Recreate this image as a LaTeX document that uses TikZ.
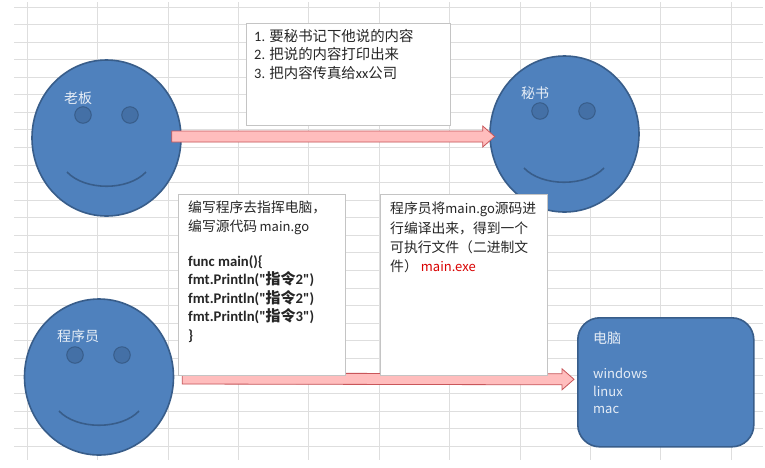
\documentclass[tikz,border=0pt]{standalone}
\usepackage{fontspec}
\setmainfont{Carlito}
\newfontfamily\cjkf{Noto Sans CJK SC}
\newfontfamily\codef{Carlito}
\usetikzlibrary{shapes.geometric,calc}
\definecolor{facefill}{HTML}{4F81BD}
\definecolor{faceline}{HTML}{385D8A}
\definecolor{eyefill}{HTML}{4470A6}
\definecolor{gridc}{HTML}{DEDEDE}
\definecolor{boxline}{HTML}{C4C4C4}
\definecolor{arrowfill}{HTML}{FFBDBD}
\definecolor{arrowline}{HTML}{C9565A}
\definecolor{labelc}{HTML}{E6EDF6}
\newcommand{\zh}[1]{{\cjkf #1}}
\newcommand{\lat}[1]{{\cjkf\fontsize{13}{13}\selectfont #1}}
\newcommand{\codeln}[2]{{\codef\bfseries fmt.Println("{\cjkf\bfseries\fontsize{15}{15}\selectfont #1}#2")}}
\tikzset{
  x=1pt,y=-1pt,
  gridline/.style={gridc,line width=1pt},
  face/.style={ellipse,draw=faceline,fill=facefill,line width=1.6pt,inner sep=0pt,minimum width=149pt,minimum height=156pt},
  eye/.style={circle,draw=faceline,fill=eyefill,line width=1pt,inner sep=0pt,minimum size=16.5pt},
  smile/.style={faceline,line width=1.6pt},
  facelabel/.style={text=labelc,font=\fontsize{14}{16}\selectfont,inner sep=0pt},
  paper/.style={rectangle,draw=boxline,fill=white,line width=.8pt,inner sep=0pt,anchor=north west},
  boxtext/.style={inner sep=0pt,anchor=north west,align=left,text=black!85},
  blockarrow/.style={fill=arrowfill,draw=arrowline,line width=.8pt,line join=miter},
  arrowshadow/.style={fill=black,opacity=.2,draw=none},
  computer/.style={rectangle,rounded corners=22pt,draw=faceline,fill=facefill,line width=1.6pt,inner sep=0pt,anchor=north west,minimum width=176pt,minimum height=129pt}
}
\newcommand{\blockpath}[2]{($(#1)+(0,-5.5)$) -- ($(#2)+(-12,-5.5)$) -- ($(#2)+(-12,-10.5)$) -- (#2) -- ($(#2)+(-12,10.5)$) -- ($(#2)+(-12,5.5)$) -- ($(#1)+(0,5.5)$) -- cycle}
\begin{document}
\begin{tikzpicture}
\useasboundingbox (0,0) rectangle (765,467);
\fill[white] (0,0) rectangle (765,467);
% spreadsheet grid
\foreach \i in {0,...,25} \draw[gridline] (14,7+17.57*\i) -- (763,7+17.57*\i);
\foreach \i in {0,...,10} \draw[gridline] (27.3+70.4*\i,2) -- (27.3+70.4*\i,460);

% faces
\node[face] (boss) at (106.5,138) {};
\node[eye] (bossL) at (83,115) {};
\node[eye] (bossR) at (130,115) {};
\coordinate (bossSa) at (67,172); \coordinate (bossSb) at (146,172);
\draw[smile] (bossSa) .. controls ($(bossSa)+(18,19)$) and ($(bossSb)+(-18,19)$) .. (bossSb);
\node[facelabel] (bossT) at (78,98) {\zh{老板}};

\node[face] (sec) at (564.5,134) {};
\node[eye] (secL) at (540,111) {};
\node[eye] (secR) at (587,111) {};
\coordinate (secSa) at (524,168); \coordinate (secSb) at (604,168);
\draw[smile] (secSa) .. controls ($(secSa)+(18,19)$) and ($(secSb)+(-18,19)$) .. (secSb);
\node[facelabel] (secT) at (535,93) {\zh{秘书}};

\node[face] (prog) at (99,377) {};
\node[eye] (progL) at (75,355) {};
\node[eye] (progR) at (122,355) {};
\coordinate (progSa) at (59,411); \coordinate (progSb) at (139,411);
\draw[smile] (progSa) .. controls ($(progSa)+(18,19)$) and ($(progSb)+(-18,19)$) .. (progSb);
\node[facelabel] (progT) at (78,336) {\zh{程序员}};

% computer
\node[computer] (pc) at (577,317) {};
\node[boxtext,text=labelc,font=\fontsize{14}{17.6}\selectfont] (pcT) at (593,332) {\zh{电脑}\\[17pt]\lat{windows}\\\lat{linux}\\\lat{mac}};

% arrows
\coordinate (a1s) at ($(boss.east)+(-10,-1.5)$);
\coordinate (a1e) at ($(sec.west)+(5.5,2.5)$);
\coordinate (a2s) at ($(prog.east)+(8,1.5)$);
\coordinate (a2e) at ($(pc.west)+(-3,-3)$);
\fill[arrowshadow,shift={(1,1.5)}] \blockpath{a1s}{a1e};
\draw[blockarrow] \blockpath{a1s}{a1e};
\fill[arrowshadow,shift={(1,1.5)}] \blockpath{a2s}{a2e};
\draw[blockarrow] \blockpath{a2s}{a2e};

% paper boxes
\node[paper,minimum width=204pt,minimum height=102pt] (note1) at (246,23) {};
\node[boxtext,font=\fontsize{14.4}{18.5}\selectfont] (note1T) at (254,29) {1. \zh{要秘书记下他说的内容}\\2. \zh{把说的内容打印出来}\\3. \zh{把内容传真给}xx\zh{公司}};

\node[paper,minimum width=167pt,minimum height=181pt] (note2) at (178,194) {};
\node[boxtext,font=\fontsize{14.7}{18.6}\selectfont] (note2T) at (188,201) {{\fontsize{13.8}{18.6}\selectfont\zh{编写程序去指挥电脑，}}\\{\fontsize{13.8}{18.6}\selectfont\zh{编写源代码}}\,\lat{main.go}\\[16pt]\textbf{func main()\{}\\\codeln{指令}{2}\\\codeln{指令}{2}\\\codeln{指令}{3}\\\textbf{\}}};

\node[paper,minimum width=167pt,minimum height=181pt] (note3) at (380,194) {};
\node[boxtext,font=\fontsize{13.8}{19.3}\selectfont] (note3T) at (390,202) {\zh{程序员将}\lat{main.go}\zh{源码进}\\\zh{行编译出来，得到一个}\\\zh{可执行文件（二进制文}\\\zh{件）} \textcolor{red!85!black}{\lat{main.exe}}};
\end{tikzpicture}
\end{document}
